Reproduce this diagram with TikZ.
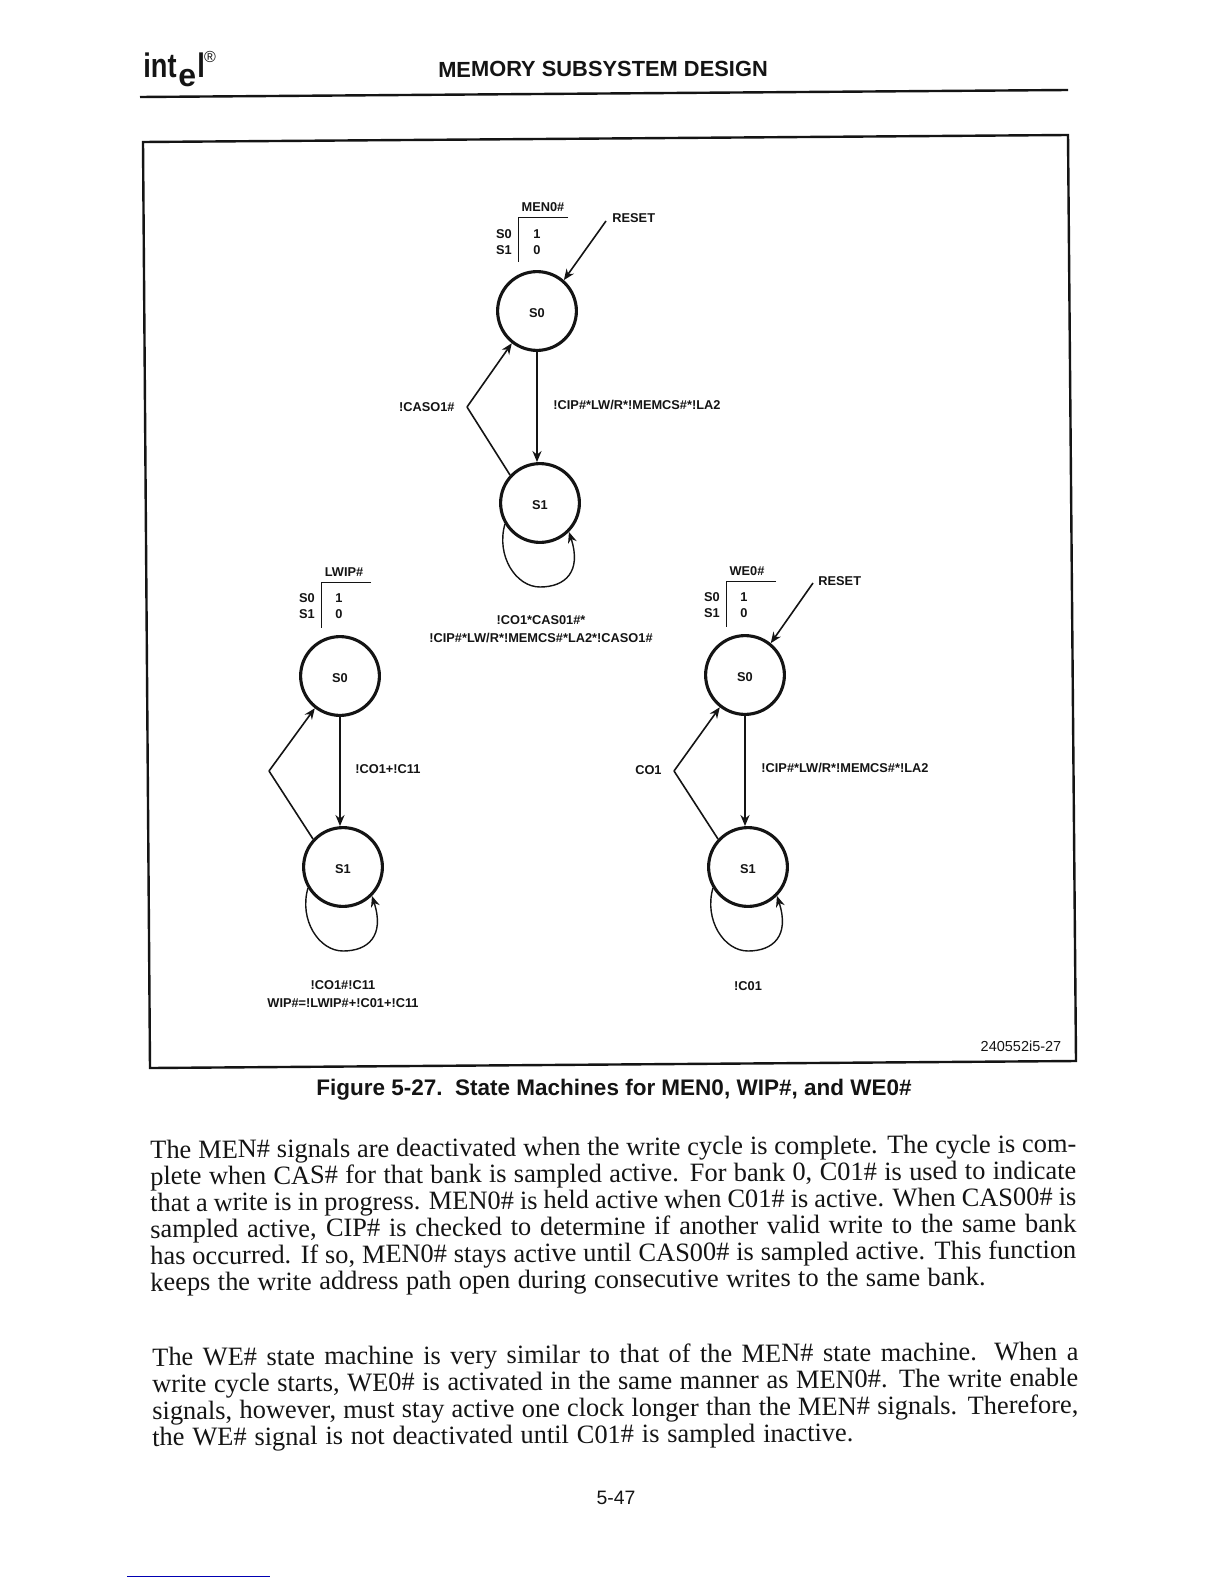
\documentclass[tikz,border=0pt]{standalone}
\usepackage{fontspec}
\setmainfont{Liberation Serif}
\newfontfamily\arial{Liberation Sans}
\newfontfamily\logofont{Liberation Sans}[FakeStretch=0.8]
\usetikzlibrary{arrows.meta,calc}
\definecolor{ink}{gray}{0.08}
\tikzset{
  x=0.5pt,y=-0.5pt,
  lab/.style={font=\arial\bfseries\fontsize{6.4}{9}\selectfont,inner sep=0,text=ink,align=center},
  st/.style={circle,draw=ink,line width=1.55pt,minimum size=39.4pt,inner sep=0,font=\arial\bfseries\fontsize{6.4}{8}\selectfont,text=ink},
  con/.style={draw=ink,line width=1pt,-{Stealth[length=5.5pt,width=4.5pt]}},
  diag/.style={draw=ink,line width=0.8pt,-{Stealth[length=5.5pt,width=4.5pt]}},
  loopl/.style={draw=ink,line width=0.7pt},
  ln/.style={draw=ink,line width=0.8pt},
  tb/.style={draw=ink,line width=0.5pt},
  rulel/.style={draw=ink,line width=1.2pt},
  bodyl/.style={font=\fontsize{13.2}{15}\selectfont,inner sep=0,anchor=base west,rotate=0.37,text=ink},
  logot/.style={inner sep=0,anchor=base west,text=ink},
}
\newcommand{\machine}[7]{%
 \node[st] (#1a) at (#2,#3) {\raisebox{-0.7pt}[4.6pt][0pt]{S0}};
 \node[st] (#1b) at (#4,#5) {\raisebox{-0.7pt}[4.6pt][0pt]{S1}};
 \coordinate (#1ap) at (#6,#7);
 \coordinate (#1lo) at ($(#1b)+(0,84)$);
 \draw[con] (#1a.south) -- (#1a.south |- #1b.north);
 \draw[ln] (#1b.137) -- (#1ap);
 \draw[diag] (#1ap) -- (#1a.232);
 \draw[loopl] (#1b.211) .. controls +(-9,32) and +(-24,0) .. (#1lo);
 \draw[loopl,-{Stealth[length=5.5pt,width=4.5pt]}] (#1lo) .. controls +(25,0) and +(13,40) .. (#1b.-45);
}
\newcommand{\bline}[2]{\makebox[#1pt][s]{#2}}
\begin{document}
\begin{tikzpicture}
\useasboundingbox (0,0) rectangle (1224,1584);
\fill[white] (0,0) rectangle (1224,1584);

% header
\node[logot,font=\logofont\bfseries\fontsize{17}{19}\selectfont] (logoa) at (143,78) {int};
\node[logot,font=\arial\bfseries\fontsize{16}{19}\selectfont] (logob) at (178,87) {e};
\node[logot,font=\logofont\bfseries\fontsize{17}{19}\selectfont] (logoc) at (197,78) {l};
\node[inner sep=0,font=\arial\fontsize{8}{9}\selectfont,text=ink] (logor) at (210,57) {®};
\node[inner sep=0,font=\arial\bfseries\fontsize{10.93}{13}\selectfont,rotate=0.2,text=ink] (title) at (603,69) {MEMORY SUBSYSTEM DESIGN};
\coordinate (h1) at (140,97); \coordinate (h2) at (1068,90);
\draw[rulel] (h1) -- (h2);

% frame
\coordinate (f1) at (143,142); \coordinate (f2) at (1068,135);
\coordinate (f3) at (1076,1061); \coordinate (f4) at (150,1068);
\draw[rulel] (f1) -- (f2) -- (f3) -- (f4) -- cycle;

% state machines
\machine{m}{537}{311}{540}{503}{467}{407}
\machine{l}{340}{676}{343}{867}{269}{771}
\machine{w}{745}{675}{748}{867}{674}{771}

% tables
\node[lab] (tm) at (543,207) {MEN0\#};
\node[lab] (tm0l) at (504,234) {S0}; \node[lab] (tm1l) at (504,250) {S1};
\node[lab] (tm0v) at (537,234) {1}; \node[lab] (tm1v) at (537,250) {0};
\coordinate (tmc) at (518.5,217); \coordinate (tmr) at (568,217); \coordinate (tmb) at (518.5,262);
\draw[tb] (tmr) -- (tmc) -- (tmb);

\node[lab] (tl) at (344,572) {LWIP\#};
\node[lab] (tl0l) at (307,598) {S0}; \node[lab] (tl1l) at (307,614) {S1};
\node[lab] (tl0v) at (339,598) {1}; \node[lab] (tl1v) at (339,614) {0};
\coordinate (tlc) at (321,582); \coordinate (tlr) at (371,582); \coordinate (tlb) at (321,628);
\draw[tb] (tlr) -- (tlc) -- (tlb);

\node[lab] (tw) at (747,571) {WE0\#};
\node[lab] (tw0l) at (712,597) {S0}; \node[lab] (tw1l) at (712,613) {S1};
\node[lab] (tw0v) at (744,597) {1}; \node[lab] (tw1v) at (744,613) {0};
\coordinate (twc) at (726,581); \coordinate (twr) at (776,581); \coordinate (twb) at (726,627);
\draw[tb] (twr) -- (twc) -- (twb);

% resets
\coordinate (r1) at (606,221);
\node[lab,anchor=west] (r1t) at (612,218) {RESET};
\draw[diag] (r1) -- (ma.49);
\coordinate (r2) at (813,583);
\node[lab,anchor=west] (r2t) at (818,581) {RESET};
\draw[diag] (r2) -- (wa.51);

% labels
\node[lab,anchor=east] (c1) at (455,407) {!CASO1\#};
\node[lab,anchor=west] (c2) at (553,405) {!CIP\#*LW/R*!MEMCS\#*!LA2};
\node[lab] (c3) at (541,629) {!CO1*CAS01\#*\\!CIP\#*LW/R*!MEMCS\#*LA2*!CASO1\#};
\node[lab,anchor=west] (c4) at (355,769) {!CO1+!C11};
\node[lab] (c5) at (343,994) {!CO1\#!C11\\WIP\#=!LWIP\#+!C01+!C11};
\node[lab,anchor=east] (c6) at (662,770) {CO1};
\node[lab,anchor=west] (c7) at (761,768) {!CIP\#*LW/R*!MEMCS\#*!LA2};
\node[lab] (c8) at (748,986) {!C01};
\node[inner sep=0,font=\arial\fontsize{7.25}{8}\selectfont,text=ink] (ref) at (1021,1046) {240552i5-27};

% caption
\node[inner sep=0,font=\arial\bfseries\fontsize{11.25}{13}\selectfont,text=ink] (cap) at (614,1090) {Figure 5-27.\ \ State Machines for MEN0, WIP\#, and WE0\#};

% body
\node[bodyl] (b1) at (150,1158.5) {\bline{463}{The MEN\# signals are deactivated when the write cycle is complete. The cycle is com-}};
\node[bodyl] (b2) at (150,1185) {\bline{463}{plete when CAS\# for that bank is sampled active. For bank 0, C01\# is used to indicate}};
\node[bodyl] (b3) at (150,1211.5) {\bline{463}{that a write is in progress. MEN0\# is held active when C01\# is active. When CAS00\# is}};
\node[bodyl] (b4) at (150,1238) {\bline{463}{sampled active, CIP\# is checked to determine if another valid write to the same bank}};
\node[bodyl] (b5) at (150,1264.5) {\bline{463}{has occurred. If so, MEN0\# stays active until CAS00\# is sampled active. This function}};
\node[bodyl] (b6) at (150,1291) {\bline{417.6}{keeps the write address path open during consecutive writes to the same bank.}};
\node[bodyl] (b7) at (152,1366) {\bline{463}{The WE\# state machine is very similar to that of the MEN\# state machine. When a}};
\node[bodyl] (b8) at (152,1392.5) {\bline{463}{write cycle starts, WE0\# is activated in the same manner as MEN0\#. The write enable}};
\node[bodyl] (b9) at (152,1419.5) {\bline{463}{signals, however, must stay active one clock longer than the MEN\# signals. Therefore,}};
\node[bodyl] (b10) at (152,1446) {\bline{350.5}{the WE\# signal is not deactivated until C01\# is sampled inactive.}};
\node[inner sep=0,font=\arial\fontsize{9.7}{12}\selectfont,text=ink] (pg) at (616,1498) {5-47};
\coordinate (bl1) at (127,1576); \coordinate (bl2) at (270,1576);
\draw[blue!70!black,line width=0.5pt] (bl1) -- (bl2);
\end{tikzpicture}
\end{document}
